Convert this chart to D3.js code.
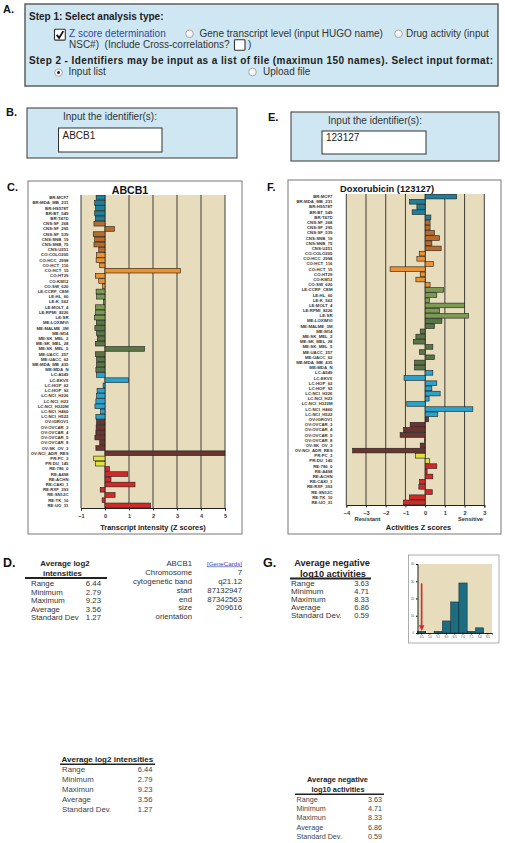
<!DOCTYPE html>
<html><head><meta charset="utf-8">
<script src="https://cdn.jsdelivr.net/npm/d3@7"></script>
<style>
body{margin:0;background:#fff;}
svg{display:block;font-family:"Liberation Sans",Arial,sans-serif;}
</style></head><body>
<svg id="fig" width="505" height="843"></svg>
<script>
// ---------------- DATA ----------------
const cellLines = ["BR:MCF7","BR:MDA_MB_231","BR:HS578T","BR:BT_549","BR:T47D",
"CNS:SF_268","CNS:SF_295","CNS:SF_539","CNS:SNB_19","CNS:SNB_75","CNS:U251",
"CO:COLO205","CO:HCC_2998","CO:HCT_116","CO:HCT_15","CO:HT29","CO:KM12","CO:SW_620",
"LE:CCRF_CEM","LE:HL_60","LE:K_562","LE:MOLT_4","LE:RPMI_8226","LE:SR",
"ME:LOXIMVI","ME:MALME_3M","ME:M14","ME:SK_MEL_2","ME:SK_MEL_28","ME:SK_MEL_5","ME:UACC_257","ME:UACC_62","ME:MDA_MB_435","ME:MDA_N",
"LC:A549","LC:EKVX","LC:HOP_62","LC:HOP_92","LC:NCI_H226","LC:NCI_H23","LC:NCI_H322M","LC:NCI_H460","LC:NCI_H522",
"OV:IGROV1","OV:OVCAR_3","OV:OVCAR_4","OV:OVCAR_5","OV:OVCAR_8","OV:SK_OV_3","OV:NCI_ADR_RES",
"PR:PC_3","PR:DU_145",
"RE:786_0","RE:A498","RE:ACHN","RE:CAKI_1","RE:RXF_393","RE:SN12C","RE:TK_10","RE:UO_31"];
const tissueGroups = ["BR","CNS","CO","LE","ME","LC","OV","PR","RE"];
const tissueColors = ["#1f7e98","#b86b2a","#ec922e","#7b9b53","#5a7545","#29a3cd","#6a3430","#e2e23c","#d42828"];

const abcb1Z = [-0.37,-0.43,-0.40,-0.43,-0.40,
 -0.46,0.39,-0.49,-0.43,-0.46,-0.26,
 -0.35,-0.37,-0.22,3.14,-0.40,-0.26,-0.10,
 -0.37,-0.35,-0.07,-0.40,-0.39,-0.44,
 -0.36,-0.42,-0.35,-0.32,-0.40,1.65,-0.40,-0.35,-0.35,-0.38,
 -0.35,0.98,-0.08,-0.33,-0.35,-0.38,-0.42,-0.18,-0.38,
 -0.35,-0.37,-0.38,-0.42,-0.22,-0.38,5.0,
 -0.47,-0.40,
 0.18,0.95,0.25,1.25,-0.20,0.42,-0.12,1.90];
const doxZ = [1.60,-0.80,-0.42,-0.66,0.29,
 0.25,0.25,0.47,0.73,0.34,0.81,
 -0.30,-0.42,0.42,-1.78,-0.25,-0.47,0.25,
 0.93,0.59,0.22,2.00,0.73,2.20,
 0.85,0.47,-0.25,-0.47,-0.60,0.39,-0.29,0.47,-0.54,-0.54,
 0.39,-1.07,0.59,0.34,0.76,0.20,-0.93,2.42,0.64,
 0.17,-0.76,-1.10,-1.27,-0.03,-0.25,-3.68,
 -0.49,0.22,
 0.59,0.10,0.39,-0.29,-0.32,0.36,-0.80,-1.10];
const abcb1Ticks = [-1,0,1,2,3,4,5];
const doxTicks = [-4,-3,-2,-1,0,1,2,3];

const histLabels = ["4.5","5.0","5.5","6.0","6.5","7.0","7.5","8.0","8.5"];
const histCounts = [1,0,1,7,18,29,1,3,0];
const histYTicks = [0,10,20,30,40];

const statNames = ["Range","Minimum","Maximum","Average","Standard Dev"];
const log2Stats = ["6.44","2.79","9.23","3.56","1.27"];
const geneInfoLabels = ["ABCB1","Chromosome","cytogenetic band","start","end","size","orientation"];
const geneInfoValues = ["[GeneCards]","7","q21.12","87132947","87342563","209616","-"];
const actStatNames = ["Range","Minimum","Maximum","Average","Standard Dev."];
const actStats = ["3.63","4.71","8.33","6.86","0.59"];
const bottomStatNames = ["Range","Minimum","Maximun","Average","Standard Dev."];

// ---------------- DRAW ----------------
const svg = d3.select("#fig");
svg.append("rect").attr("width",505).attr("height",843).attr("fill","#fff");
const colorOf = d3.scaleOrdinal().domain(tissueGroups).range(tissueColors);

function txt(g, x, y, s, size, opts={}) {
  const t = g.append("text").attr("x",x).attr("y",y).text(s)
    .attr("font-size",size).attr("fill",opts.fill||"#222").style("white-space","pre");
  if (opts.bold) t.attr("font-weight","bold");
  if (opts.anchor) t.attr("text-anchor",opts.anchor);
  if (opts.deco) t.attr("text-decoration",opts.deco);
  if (opts.len) t.attr("textLength",opts.len).attr("lengthAdjust","spacing");
  return t;
}
function panelLabel(x,y,s,size){ txt(svg,x,y,s,size||11,{bold:true,fill:"#111"}); }

// Panel A
panelLabel(3,13,"A.");
svg.append("rect").attr("x",25).attr("y",4).attr("width",473).attr("height",82)
  .attr("fill","#cfe7f2").attr("stroke","#555").attr("stroke-width",1.4);
txt(svg,29,19.5,"Step 1: Select analysis type:",10,{bold:true});
function checkbox(x,y,s,checked){
  svg.append("rect").attr("x",x).attr("y",y).attr("width",s).attr("height",s)
    .attr("fill","#fff").attr("stroke","#333").attr("stroke-width",1.1).attr("rx",0.8);
  if (checked) svg.append("path").attr("d",`M${x+2.2},${y+s*0.52} L${x+4.6},${y+s-2.2} L${x+s-2},${y+1.8}`)
    .attr("fill","none").attr("stroke","#111").attr("stroke-width",1.8);
}
function radio(cx,cy,filled){
  svg.append("circle").attr("cx",cx).attr("cy",cy).attr("r",3.8)
    .attr("fill","#f6f6f6").attr("stroke","#a0a0a0").attr("stroke-width",0.9);
  if (filled) svg.append("circle").attr("cx",cx).attr("cy",cy).attr("r",1.5).attr("fill","#222");
}
checkbox(54.5,29.3,10.8,true);
txt(svg,69,36.5,"Z score determination",10,{fill:"#2a49a8"});
radio(189.5,33.8,false);
txt(svg,199.5,36.5,"Gene transcript level (input HUGO name)",10,{fill:"#333"});
radio(398.5,33.8,false);
txt(svg,406,36.5,"Drug activity (input",10,{fill:"#333"});
txt(svg,69,48,"NSC#)  (Include Cross-correlations?",10,{fill:"#333"});
checkbox(234.5,39.8,10.5,false);
txt(svg,248,48,")",10,{fill:"#333"});
txt(svg,29,64.3,"Step 2 - Identifiers may be input as a list of file (maximun 150 names). Select input format:",10,{bold:true,len:464});
radio(58.5,72.6,true);
txt(svg,68.5,75,"Input list",10,{fill:"#333"});
radio(252.5,72,false);
txt(svg,263,74.5,"Upload file",10,{fill:"#333"});

// Panels B and E
function inputPanel(lbl,lx,ly,bx,by,bw,bh,tx,ty,ix,iy,iw,ih,val,vy){
  panelLabel(lx,ly,lbl);
  svg.append("rect").attr("x",bx).attr("y",by).attr("width",bw).attr("height",bh)
    .attr("fill","#cfe7f2").attr("stroke","#555").attr("stroke-width",1.2);
  txt(svg,tx,ty,"Input the identifier(s):",10,{fill:"#333"});
  svg.append("rect").attr("x",ix).attr("y",iy).attr("width",iw).attr("height",ih)
    .attr("fill","#fff").attr("stroke","#333").attr("stroke-width",1);
  txt(svg,ix+4,vy,val,10,{fill:"#222"});
}
inputPanel("B.",6,115.5,27,108,210,50,63,119.5,58.5,128,103.5,24,"ABCB1",138.5);
inputPanel("E.",268,121,291,112,208,49,328,124.3,322,131,104,23,"123127",141);

// Bar chart panels
function barPanel(o){
  panelLabel(o.lx,o.ly,o.lbl);
  const g = svg.append("g");
  g.append("rect").attr("x",o.box[0]).attr("y",o.box[1]).attr("width",o.box[2]-o.box[0]).attr("height",o.box[3]-o.box[1])
    .attr("fill","#fff").attr("stroke","#777").attr("stroke-width",1);
  const x = d3.scaleLinear().domain(o.domain).range([o.plot[0],o.plot[2]]);
  const y = d3.scaleBand().domain(cellLines).range([o.plot[1],o.plot[3]]).paddingInner(0.1).paddingOuter(0.05);
  g.append("rect").attr("x",o.plot[0]).attr("y",o.plot[1]).attr("width",o.plot[2]-o.plot[0]).attr("height",o.plot[3]-o.plot[1])
    .attr("fill","#e7ddbd");
  g.selectAll("line.grid").data(o.ticks).enter().append("line")
    .attr("x1",d=>x(d)).attr("x2",d=>x(d)).attr("y1",o.plot[1]).attr("y2",o.plot[3])
    .attr("stroke","#2a2a2a").attr("stroke-width",0.9);
  g.selectAll("rect.bar").data(o.values).enter().append("rect")
    .attr("x",d=>Math.min(x(0),x(d))).attr("width",d=>Math.abs(x(d)-x(0)))
    .attr("y",(d,i)=>y(cellLines[i])).attr("height",y.bandwidth())
    .attr("fill",(d,i)=>colorOf(cellLines[i].split(":")[0]))
    .attr("stroke","#1e1e1e").attr("stroke-width",0.6);
  g.selectAll("text.row").data(cellLines).enter().append("text")
    .attr("x",o.labelRight).attr("y",d=>y(d)+y.bandwidth()/2+1.5)
    .attr("text-anchor","end").attr("font-size",4.3).attr("font-weight","bold").attr("fill","#333")
    .text(d=>d);
  const ax = g.append("g").attr("transform",`translate(0,${o.plot[3]})`)
    .call(d3.axisBottom(x).tickValues(o.ticks).tickSize(2.5).tickPadding(4).tickFormat(d3.format("d")));
  ax.select(".domain").attr("stroke","#222").attr("stroke-width",1);
  ax.selectAll(".tick line").attr("stroke","#222");
  ax.selectAll("text").attr("font-size",5.6).attr("font-weight","bold").attr("fill","#333")
    .attr("font-family","Liberation Sans, Arial, sans-serif");
  txt(g,o.titleX,o.titleY,o.title,o.titleSize,{bold:true,anchor:"middle",fill:"#111"});
  txt(g,o.xtX,o.xtY,o.xTitle,7.4,{bold:true,anchor:"middle",fill:"#222"});
  return {g,x};
}
barPanel({lbl:"C.",lx:7,ly:191,box:[28,181,242,534],plot:[81,195,225,508],domain:[-1,5],ticks:abcb1Ticks,
  values:abcb1Z,labelRight:68.5,title:"ABCB1",titleSize:10.6,titleX:130,titleY:193.5,
  xTitle:"Transcript intensity (Z scores)",xtX:153,xtY:529.5});
const F = barPanel({lbl:"F.",lx:267,ly:191,box:[288,180,501,534],plot:[346.3,194,484.3,505],domain:[-4,3],ticks:doxTicks,
  values:doxZ,labelRight:332.5,title:"Doxorubicin (123127)",titleSize:9.3,titleX:387,titleY:191.5,
  xTitle:"Activities Z scores",xtX:418.5,xtY:529.5});
txt(F.g,F.x(-3)+1.5,521,"Resistant",5.8,{bold:true,anchor:"middle",fill:"#333"});
txt(F.g,F.x(2.3),521,"Sensitive",5.7,{bold:true,anchor:"middle",fill:"#333"});

// Panel D
panelLabel(3,567,"D.",12.5);
txt(svg,65,565.5,"Average log2",7.9,{bold:true,anchor:"middle"});
txt(svg,62.5,575.5,"intensities",7.9,{bold:true,anchor:"middle"});
svg.append("line").attr("x1",25).attr("x2",107).attr("y1",578).attr("y2",578).attr("stroke","#222").attr("stroke-width",1.8);
const dRowY = [586,594.6,603.2,611.8,620.4];
statNames.forEach((s,i)=>{ txt(svg,31,dRowY[i],s,7.8,{fill:"#333"}); txt(svg,101,dRowY[i],log2Stats[i],7.8,{anchor:"end",fill:"#333"}); });
const gRowY = [566,575,584,592.8,601.6,610.2,618.8];
geneInfoLabels.forEach((s,i)=>{
  txt(svg,192,gRowY[i],s,7.8,{anchor:"end",fill:"#333"});
  if (i===0) txt(svg,242,gRowY[i]-0.5,geneInfoValues[i],6.2,{anchor:"end",fill:"#3a48c0",deco:"underline"});
  else txt(svg,242,gRowY[i],geneInfoValues[i],7.8,{anchor:"end",fill:"#333"});
});

// Panel G
panelLabel(263,567,"G.",12.5);
txt(svg,332,566,"Average negative",9.2,{bold:true,anchor:"middle"});
txt(svg,333,576.6,"log10 activities",9.2,{bold:true,anchor:"middle"});
svg.append("line").attr("x1",290).attr("x2",371).attr("y1",578.5).attr("y2",578.5).attr("stroke","#222").attr("stroke-width",1.8);
const gStatY = [585.5,594,602.3,610.3,618.3];
actStatNames.forEach((s,i)=>{ txt(svg,291,gStatY[i],s,8,{fill:"#333"}); txt(svg,369,gStatY[i],actStats[i],7.6,{anchor:"end",fill:"#333"}); });

// Histogram
svg.append("rect").attr("x",408.5).attr("y",555).attr("width",90.5).attr("height",88)
  .attr("fill","#fff").attr("stroke","#999").attr("stroke-width",0.8);
const hx = d3.scaleBand().domain(histLabels).range([417.5,492]).padding(0);
const hy = d3.scaleLinear().domain([0,40]).range([633,564]);
svg.append("rect").attr("x",417.5).attr("y",564).attr("width",74.5).attr("height",69).attr("fill","#e7ddbd");
svg.selectAll("rect.hbar").data(histCounts).enter().append("rect")
  .attr("x",(d,i)=>hx(histLabels[i])).attr("width",hx.bandwidth())
  .attr("y",d=>hy(d)).attr("height",d=>hy(0)-hy(d))
  .attr("fill","#1c6d80").attr("stroke","#123").attr("stroke-width",0.5);
const hax = svg.append("g").attr("transform","translate(0,633)")
  .call(d3.axisBottom(hx).tickSize(1.5).tickPadding(2));
const hay = svg.append("g").attr("transform","translate(417.5,0)")
  .call(d3.axisLeft(hy).tickValues(histYTicks).tickSize(1.5).tickPadding(2));
[hax,hay].forEach(a=>{
  a.select(".domain").attr("stroke","#111").attr("stroke-width",0.9);
  a.selectAll("text").attr("font-size",2.8).attr("fill","#444").attr("font-family","Liberation Sans, Arial, sans-serif");
});
const ax0 = hx(histLabels[0]) + hx.bandwidth()/2;
svg.append("line").attr("x1",ax0).attr("x2",ax0).attr("y1",hy(28.8)).attr("y2",hy(3.5))
  .attr("stroke","#e0242a").attr("stroke-width",1.6);
svg.append("path").attr("d",`M${ax0-2.8},${hy(4.5)} L${ax0+2.8},${hy(4.5)} L${ax0},${hy(1.2)} Z`).attr("fill","#e0242a");

// Bottom tables
txt(svg,61.5,761.7,"Average log2 intensities",8,{bold:true});
svg.append("line").attr("x1",60).attr("x2",155).attr("y1",764.3).attr("y2",764.3).attr("stroke","#222").attr("stroke-width",1.6);
const b1Y = [772,782,792,802,811.8];
bottomStatNames.forEach((s,i)=>{ txt(svg,62,b1Y[i],s,7.8,{fill:"#444"}); txt(svg,152.5,b1Y[i],log2Stats[i],7.6,{anchor:"end",fill:"#444"}); });

txt(svg,337.5,782,"Average negative",7.4,{bold:true,anchor:"middle"});
txt(svg,338,791.8,"log10 activities",7.4,{bold:true,anchor:"middle"});
svg.append("line").attr("x1",295).attr("x2",384).attr("y1",794.2).attr("y2",794.2).attr("stroke","#222").attr("stroke-width",1.6);
const b2Y = [801.5,811,820.3,829.8,839.2];
bottomStatNames.forEach((s,i)=>{ txt(svg,296.5,b2Y[i],s,7.2,{fill:"#444"}); txt(svg,382,b2Y[i],actStats[i],7.2,{anchor:"end",fill:"#444"}); });
</script>
</body></html>
